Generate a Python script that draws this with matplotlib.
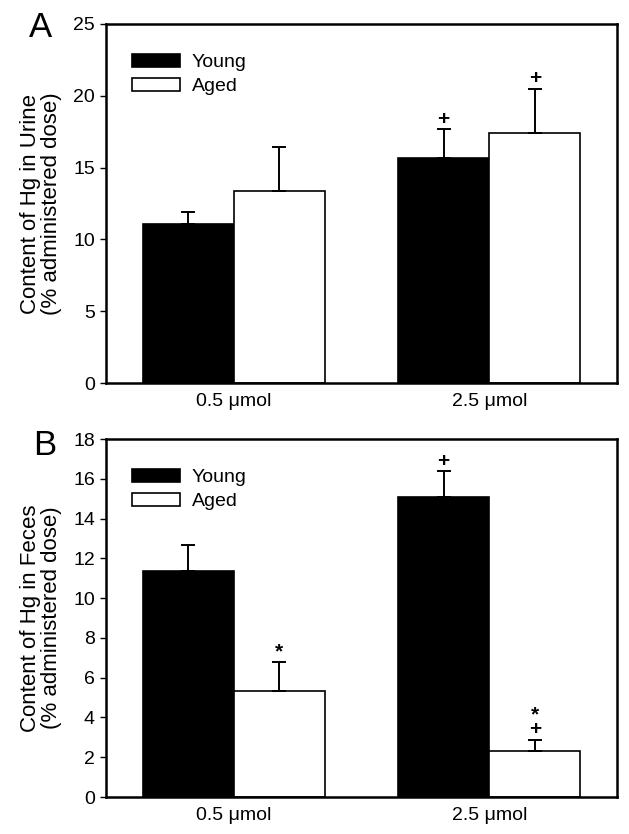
import numpy as np
import matplotlib
matplotlib.use("Agg")
import matplotlib.pyplot as plt

plt.rcParams['font.family'] = ['Liberation Sans', 'DejaVu Sans']

doses = ["0.5 \u03bcmol", "2.5 \u03bcmol"]
groups = ["Young", "Aged"]

# panel A: urine
urine_young = [11.1, 15.7]
urine_young_err = [0.8, 2.0]
urine_aged = [13.35, 17.4]
urine_aged_err = [3.1, 3.1]
urine_marks = [["", ""], ["+", "+"]]      # [dose][group], top to bottom

# panel B: feces
feces_young = [11.35, 15.1]
feces_young_err = [1.3, 1.3]
feces_aged = [5.33, 2.3]
feces_aged_err = [1.47, 0.55]
feces_marks = [["", "*"], ["+", "*\n+"]]

fig = plt.figure(figsize=(6.29, 8.34), dpi=100)
W, H = 629, 834
axA = fig.add_axes([106 / W, 1 - 383 / H, 511 / W, 359 / H])
axB = fig.add_axes([106 / W, 1 - 797 / H, 511 / W, 358 / H])

x = np.arange(1, len(doses) + 1)
bw = 0.357
fs = 14
line_pt = 12.5


def panel(ax, young, yerr, aged, aerr, marks, ymax, ystep, ylabel):
    b1 = ax.bar(x - bw / 2, young, bw, color="black", edgecolor="black",
                linewidth=1.2, label=groups[0], zorder=2)
    b2 = ax.bar(x + bw / 2, aged, bw, color="white", edgecolor="black",
                linewidth=1.2, label=groups[1], zorder=2)
    ax.errorbar(x - bw / 2, young, yerr=[np.zeros(len(young)), yerr], fmt="none",
                ecolor="black", elinewidth=1.4, capsize=5, capthick=1.4, zorder=3)
    ax.errorbar(x + bw / 2, aged, yerr=[np.zeros(len(aged)), aerr], fmt="none",
                ecolor="black", elinewidth=1.4, capsize=5, capthick=1.4, zorder=3)
    tops = [[young[i] + yerr[i], aged[i] + aerr[i]] for i in range(len(x))]
    for i in range(len(x)):
        for j, off in enumerate([-bw / 2, bw / 2]):
            m = marks[i][j]
            if not m:
                continue
            n = m.count("\n") + 1
            ax.annotate(m, (x[i] + off, tops[i][j]),
                        xytext=(0, 7 + (n - 1) * line_pt / 2),
                        textcoords="offset points", ha="center", va="center",
                        fontsize=15, fontweight="bold",
                        linespacing=line_pt / (15 * 1.2))
    ax.set_xlim(0.5, 2.5)
    ax.set_ylim(0, ymax)
    ax.set_yticks(np.arange(0, ymax + 0.1, ystep))
    ax.set_xticks(x)
    ax.set_xticklabels(doses, fontsize=fs)
    ax.tick_params(axis="x", length=0, pad=7)
    ax.tick_params(axis="y", length=4, width=1, labelsize=fs, direction="out", pad=4)
    for s in ax.spines.values():
        s.set_linewidth(1.8)
    ax.set_ylabel(ylabel, fontsize=16, linespacing=1.0, labelpad=8)
    ax.legend(handles=[b1, b2], loc="upper left", bbox_to_anchor=(0.05, 0.917),
              frameon=False, fontsize=fs, handlelength=2.5, handleheight=0.65,
              handletextpad=0.6, labelspacing=0.35, borderpad=0, borderaxespad=0)


panel(axA, urine_young, urine_young_err, urine_aged, urine_aged_err, urine_marks,
      25, 5, "Content of Hg in Urine\n(% administered dose)")
panel(axB, feces_young, feces_young_err, feces_aged, feces_aged_err, feces_marks,
      18, 2, "Content of Hg in Feces\n(% administered dose)")

fig.text(29 / W, 1 - 37 / H, "A", fontsize=25)
fig.text(33 / W, 1 - 455 / H, "B", fontsize=25)

fig.savefig("out.png", dpi=100)
